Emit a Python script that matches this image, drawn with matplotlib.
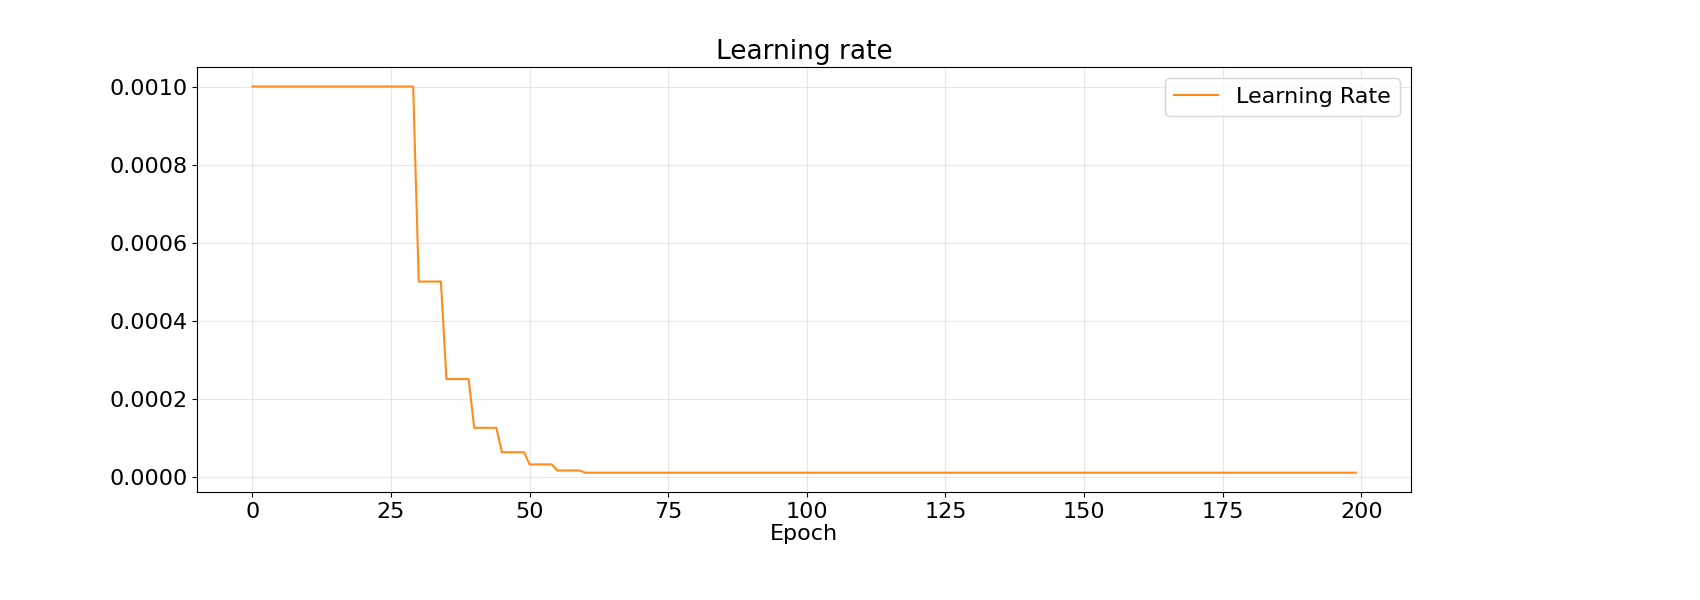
import numpy as np
import matplotlib
matplotlib.use("Agg")
import matplotlib.pyplot as plt

# step schedule: start epoch of each step and its learning rate
step_start = [0, 30, 35, 40, 45, 50, 55, 60]
step_lr = [0.001, 0.0005, 0.00025, 0.000125, 0.0000625, 0.00003125, 0.000015625, 0.00001]
n_epochs = 200

lengths = np.diff(step_start + [n_epochs])
epochs = np.arange(n_epochs)
lr = np.repeat(step_lr, lengths)

fig = plt.figure(figsize=(17, 6), dpi=100)
ax = fig.add_axes([0.116, 0.18, 0.714, 0.708])
ax.plot(epochs, lr, color="#ff8c1a", linewidth=1.5, label="Learning Rate")
ax.set_title("Learning rate", fontsize=19)
ax.set_xlabel("Epoch", fontsize=16, labelpad=2)
ax.tick_params(labelsize=16)
ax.set_yticks([0.0, 0.0002, 0.0004, 0.0006, 0.0008, 0.0010])
ax.set_xticks([0, 25, 50, 75, 100, 125, 150, 175, 200])
ax.grid(True, alpha=0.3)
ax.legend(fontsize=16, loc="upper right")
fig.savefig("out.png", dpi=100)
